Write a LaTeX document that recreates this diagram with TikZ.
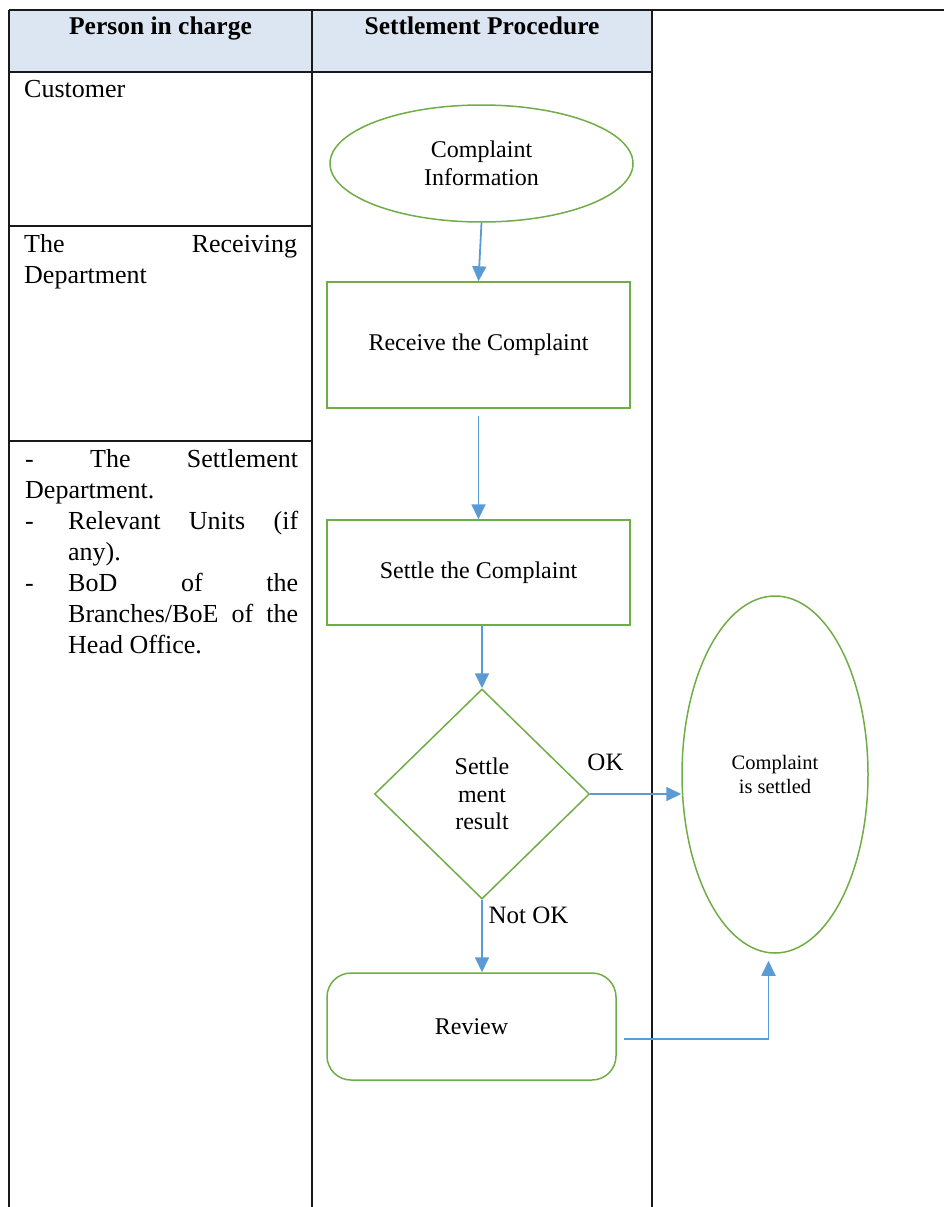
\documentclass[tikz,border=0pt]{standalone}
\usepackage{fontspec}
\setmainfont{Liberation Serif}
\usetikzlibrary{shapes.geometric,arrows.meta,calc}
\definecolor{hdrblue}{HTML}{DCE6F2}
\definecolor{flowgreen}{HTML}{70AD47}
\definecolor{arrowblue}{HTML}{5B9BD5}
\begin{document}
\begin{tikzpicture}[x=1pt,y=-1pt,
  tableline/.style={line width=1.9pt, black!90},
  flowbox/.style={draw=flowgreen, line width=1.5pt, inner sep=0pt, align=center, font=\fontsize{24}{27.5}\selectfont},
  flowarrow/.style={draw=arrowblue, line width=1.8pt, -{Triangle[length=15pt,width=14pt]}},
  celltext/.style={inner sep=0pt, anchor=base west, font=\fontsize{26}{31}\selectfont},
  hdrtext/.style={inner sep=0pt, anchor=base, font=\bfseries\fontsize{25.5}{30}\selectfont},
  lbl/.style={inner sep=0pt, anchor=base, font=\fontsize{25}{30}\selectfont}]
\useasboundingbox (0,0) rectangle (944,1207);
% table
\fill[hdrblue] (9,10) rectangle (652,72);
\draw[tableline] (9,10) -- (944,10);
\draw[tableline] (9,10) -- (9,1207);
\draw[tableline] (312,10) -- (312,1207);
\draw[tableline] (652,10) -- (652,1207);
\draw[tableline] (9,72) -- (652,72);
\draw[tableline] (9,226) -- (312,226);
\draw[tableline] (9,441) -- (312,441);
% headers
\node[hdrtext] (h1) at (160.5,35) {Person in charge};
\node[hdrtext] (h2) at (482,35) {Settlement Procedure};
% left column
\node[celltext] (c1) at (24,97) {Customer};
\node[celltext] (c2) at (24,252) {\vtop{\hbox to 273pt{The\hfill Receiving}\hbox{Department}}};
\node[celltext] (c3) at (25,467) {\vtop{%
  \hbox to 273pt{-\hfill The\hfill Settlement}%
  \hbox{Department.}%
  \hbox to 273pt{\hbox to 43pt{-\hfil}Relevant\hfill Units\hfill (if}%
  \hbox{\hskip43pt any).}%
  \hbox to 273pt{\hbox to 43pt{-\hfil}BoD\hfill of\hfill the}%
  \hbox to 273pt{\hskip43pt Branches/BoE\hfill of\hfill the}%
  \hbox{\hskip43pt Head Office.}}};
% flow
\node[flowbox, ellipse, minimum width=303pt, minimum height=117pt] (e1) at (481.5,163.5) {Complaint\\Information};
\node[flowbox, rectangle, minimum width=303pt, minimum height=126pt] (r1) at (478.5,345) {Receive the Complaint};
\node[flowbox, rectangle, minimum width=303pt, minimum height=105pt] (r2) at (478.5,572.5) {Settle the Complaint};
\node[flowbox, diamond, aspect=1, minimum width=215pt, minimum height=210pt] (d) at (482,794) {Settle\\ment\\result};
\node[flowbox, ellipse, minimum width=186pt, minimum height=357pt, font=\fontsize{20.5}{23.5}\selectfont] (e2) at (775,774.5) {Complaint\\is settled};
\node[flowbox, rectangle, rounded corners=24pt, minimum width=289pt, minimum height=107pt] (rv) at (471.5,1026.5) {Review};
\node[lbl] (ok) at (605.5,770) {OK};
\node[lbl] (nok) at (528.5,923) {Not OK};
% arrows
\draw[flowarrow] (e1.south) -- (r1.north);
\draw[flowarrow, shorten <=7pt] (r1.south) -- (r2.north);
\draw[flowarrow] (r2.south -| d.north) -- (d.north);
\draw[flowarrow] (d.east) -- (d.east -| e2.west);
\draw[flowarrow] (d.south) -- (d.south |- rv.north);
\coordinate (rvout) at (624,1039);
\draw[flowarrow] (rvout) -| ([xshift=-6.5pt,yshift=-7pt]e2.south);
\end{tikzpicture}
\end{document}
